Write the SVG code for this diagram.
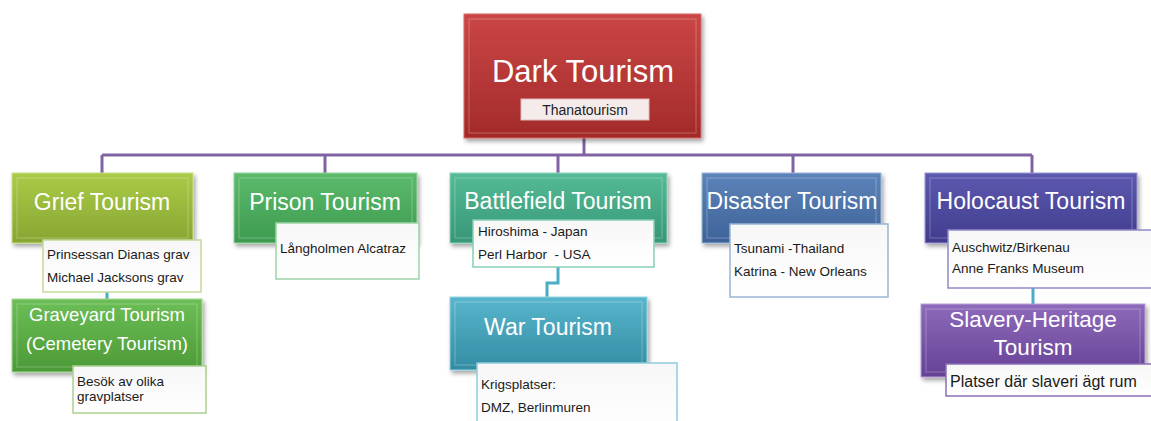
<svg xmlns="http://www.w3.org/2000/svg" width="1151" height="421" viewBox="0 0 1151 421">
<style>
.title{font-family:"Liberation Sans",Arial,sans-serif;fill:#ffffff;text-anchor:middle}
.t1{font-size:23px}
.t2{font-size:18.5px}
.det{font-family:"Liberation Sans",Arial,sans-serif;font-size:13.5px;fill:#1a1a1a;white-space:pre}
.box{fill:url(#gWhite);stroke-width:1.5}
.bev{fill:none;stroke:#ffffff;stroke-opacity:0.18;stroke-width:1.5}
.main{filter:url(#shadow)}
.conn{fill:none;stroke:#8064A2;stroke-width:3}
.sub{fill:none;stroke:#4BACC6;stroke-width:3}
</style>
<defs>
<filter id="shadow" x="-10%" y="-10%" width="125%" height="130%">
<feDropShadow dx="2" dy="3" stdDeviation="2" flood-color="#000" flood-opacity="0.35"/>
</filter>
<linearGradient id="gWhite" x1="0" y1="0" x2="0" y2="1"><stop offset="0" stop-color="#f7f7f7"/><stop offset="1" stop-color="#ffffff"/></linearGradient>
<linearGradient id="gRed" x1="0" y1="0" x2="0" y2="1"><stop offset="0" stop-color="#CB4646"/><stop offset="1" stop-color="#A32A2A"/></linearGradient>
<linearGradient id="gYG" x1="0" y1="0" x2="0" y2="1"><stop offset="0" stop-color="#AACB47"/><stop offset="1" stop-color="#87A531"/></linearGradient>
<linearGradient id="gGreen" x1="0" y1="0" x2="0" y2="1"><stop offset="0" stop-color="#5CBB6C"/><stop offset="1" stop-color="#3C9A4F"/></linearGradient>
<linearGradient id="gTeal" x1="0" y1="0" x2="0" y2="1"><stop offset="0" stop-color="#55BB96"/><stop offset="1" stop-color="#369676"/></linearGradient>
<linearGradient id="gBlue" x1="0" y1="0" x2="0" y2="1"><stop offset="0" stop-color="#5D84BA"/><stop offset="1" stop-color="#3D6298"/></linearGradient>
<linearGradient id="gIndigo" x1="0" y1="0" x2="0" y2="1"><stop offset="0" stop-color="#5D59B0"/><stop offset="1" stop-color="#403C8C"/></linearGradient>
<linearGradient id="gLGreen" x1="0" y1="0" x2="0" y2="1"><stop offset="0" stop-color="#6CBE56"/><stop offset="1" stop-color="#4C9A37"/></linearGradient>
<linearGradient id="gCyan" x1="0" y1="0" x2="0" y2="1"><stop offset="0" stop-color="#58B6CC"/><stop offset="1" stop-color="#338CA3"/></linearGradient>
<linearGradient id="gPurple" x1="0" y1="0" x2="0" y2="1"><stop offset="0" stop-color="#8E6ABB"/><stop offset="1" stop-color="#654195"/></linearGradient>
</defs>

<g id="connectors">
<path class="conn" d="M584 138 V155 M102 155 H1032 M102 155 V173 M325 155 V173 M558 155 V173 M793 155 V173 M1032 155 V173"/>
<path class="sub" d="M107 292 V299"/>
<path class="sub" d="M558 267 V283 H547 V297"/>
<path class="sub" d="M1033 288 V304"/>
</g>

<g id="root">
<rect class="main" x="464" y="14" width="237" height="124" fill="url(#gRed)" stroke="#D96A6A" stroke-width="1"/>
<rect class="bev" x="469" y="19" width="227" height="114"/>
<text class="title" x="583" y="82" font-size="31">Dark Tourism</text>
<rect x="521" y="99" width="128" height="21" fill="#F5EBEB" stroke="#E0BABA" stroke-width="1"/>
<text x="585" y="115" font-family="Liberation Sans,Arial,sans-serif" font-size="14" fill="#222" text-anchor="middle">Thanatourism</text>
</g>

<g id="grief">
<rect class="main" x="12" y="173" width="181" height="70" fill="url(#gYG)" stroke="#C8DF86" stroke-width="1"/>
<rect class="bev" x="17" y="178" width="171" height="60"/>
<text class="title t1" x="102" y="210">Grief Tourism</text>
<rect class="box" x="43" y="240" width="158" height="52" stroke="#C4D99A"/>
<text class="det" x="47" y="259">Prinsessan Dianas grav</text>
<text class="det" x="47" y="282">Michael Jacksons grav</text>
</g>

<g id="prison">
<rect class="main" x="234" y="173" width="183" height="70" fill="url(#gGreen)" stroke="#96D6A2" stroke-width="1"/>
<rect class="bev" x="239" y="178" width="173" height="60"/>
<text class="title t1" x="325" y="210">Prison Tourism</text>
<rect class="box" x="276" y="223" width="143" height="56" stroke="#9CD3A7"/>
<text class="det" x="280" y="253">Långholmen Alcatraz</text>
</g>

<g id="battlefield">
<rect class="main" x="450" y="173" width="217" height="70" fill="url(#gTeal)" stroke="#92D6BC" stroke-width="1"/>
<rect class="bev" x="455" y="178" width="207" height="60"/>
<text class="title t1" x="558" y="209">Battlefield Tourism</text>
<rect class="box" x="473" y="220" width="181" height="47" stroke="#86CFB5"/>
<text class="det" x="478" y="236">Hiroshima - Japan</text>
<text class="det" x="478" y="259">Perl Harbor  - USA</text>
</g>

<g id="disaster">
<rect class="main" x="702" y="173" width="179" height="70" fill="url(#gBlue)" stroke="#9DB7DA" stroke-width="1"/>
<rect class="bev" x="707" y="178" width="169" height="60"/>
<text class="title t1" x="792" y="209">Disaster Tourism</text>
<rect class="box" x="730" y="224" width="158" height="73" stroke="#9AB4D6"/>
<text class="det" x="734" y="253">Tsunami -Thailand</text>
<text class="det" x="734" y="276">Katrina - New Orleans</text>
</g>

<g id="holocaust">
<rect class="main" x="925" y="173" width="212" height="70" fill="url(#gIndigo)" stroke="#9C99D6" stroke-width="1"/>
<rect class="bev" x="930" y="178" width="202" height="60"/>
<text class="title t1" x="1031" y="209">Holocaust Tourism</text>
<rect class="box" x="948" y="230" width="210" height="58" stroke="#8E8BC8"/>
<text class="det" x="952" y="252">Auschwitz/Birkenau</text>
<text class="det" x="952" y="273">Anne Franks Museum</text>
</g>

<g id="graveyard">
<rect class="main" x="12" y="299" width="190" height="73" fill="url(#gLGreen)" stroke="#A6D895" stroke-width="1"/>
<rect class="bev" x="17" y="304" width="180" height="63"/>
<text class="title t2" x="107" y="321">Graveyard Tourism</text>
<text class="title t2" x="107" y="350">(Cemetery Tourism)</text>
<rect class="box" x="73" y="366" width="133" height="47" stroke="#A9D18E"/>
<text class="det" x="77" y="386">Besök av olika</text>
<text class="det" x="77" y="401">gravplatser</text>
</g>

<g id="war">
<rect class="main" x="450" y="297" width="197" height="73" fill="url(#gCyan)" stroke="#96D4E2" stroke-width="1"/>
<rect class="bev" x="455" y="302" width="187" height="63"/>
<text class="title t1" x="548" y="335">War Tourism</text>
<rect class="box" x="477" y="363" width="200" height="70" stroke="#8FCBDB"/>
<text class="det" x="481" y="389">Krigsplatser:</text>
<text class="det" x="481" y="412">DMZ, Berlinmuren</text>
</g>

<g id="slavery">
<rect class="main" x="921" y="304" width="224" height="73" fill="url(#gPurple)" stroke="#B9A0D8" stroke-width="1"/>
<rect class="bev" x="926" y="309" width="214" height="63"/>
<text class="title" x="1033" y="327" font-size="22.5">Slavery-Heritage</text>
<text class="title" x="1033" y="355" font-size="22.5">Tourism</text>
<rect class="box" x="946" y="364" width="212" height="32" stroke="#8B6FB6"/>
<text class="det" x="950" y="387" style="font-size:16px">Platser där slaveri ägt rum</text>
</g>
</svg>
